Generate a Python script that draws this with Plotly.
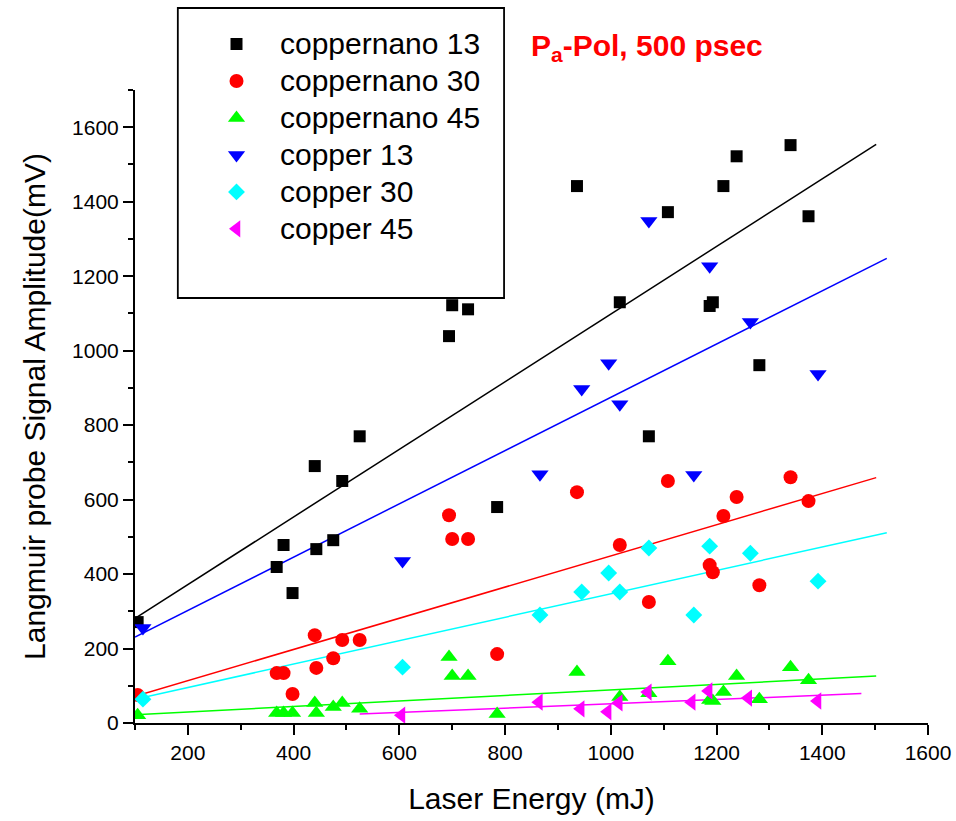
import plotly.graph_objects as go

# Laser energy (mJ) for the nano-structured copper target shots
energy_nano = [105, 368, 381, 398, 440, 443, 475, 492, 525, 694, 700, 730,
               785, 936, 1017, 1072, 1108, 1187, 1193, 1213, 1238, 1281, 1340, 1374]
# Probe signal amplitude (mV) at 13, 30 and 45 degrees
nano13 = [271, 419, 478, 349, 690, 467, 491, 650, 770, 1039, 1122, 1111,
          580, 1442, 1130, 770, 1372, 1120, 1130, 1442, 1522, 961, 1552, 1361]
nano30 = [75, 134, 134, 78, 236, 148, 174, 223, 223, 558, 494, 494,
          185, 620, 478, 325, 650, 424, 405, 556, 607, 370, 660, 596]
nano45 = [21, 27, 27, 27, 54, 27, 43, 54, 38, 177, 126, 126,
          24, 137, 70, 80, 166, 62, 59, 83, 126, 64, 150, 115]

# Plain copper target shots
energy_cu = [115, 606, 866, 945, 996, 1017, 1072, 1157, 1187, 1264, 1392]
cu13 = [255, 435, 668, 897, 966, 856, 1348, 666, 1227, 1077, 937]
cu30 = [64, 150, 290, 352, 403, 352, 470, 290, 475, 456, 381]
energy_cu45 = [604, 864, 943, 994, 1015, 1070, 1153, 1185, 1260, 1391]
cu45 = [21, 56, 38, 30, 54, 83, 56, 86, 67, 59]

# Linear fit end points (energy, amplitude) for each series
fit_nano13 = ([100, 1502], [281, 1554])
fit_nano30 = ([100, 1502], [72, 659])
fit_nano45 = ([100, 1502], [22, 126])
fit_cu13 = ([100, 1522], [231, 1248])
fit_cu30 = ([100, 1522], [64, 511])
fit_cu45 = ([525, 1474], [24, 79])

series = [
    ("coppernano 13", energy_nano, nano13, fit_nano13, "#000000", "square", 12),
    ("coppernano 30", energy_nano, nano30, fit_nano30, "#FF0000", "circle", 14),
    ("coppernano 45", energy_nano, nano45, fit_nano45, "#00FF00", "triangle-up", 15),
    ("copper 13", energy_cu, cu13, fit_cu13, "#0000FF", "triangle-down", 15),
    ("copper 30", energy_cu, cu30, fit_cu30, "#00FFFF", "diamond", 13),
    ("copper 45", energy_cu45, cu45, fit_cu45, "#FF00FF", "triangle-left", 15),
]

FONT = "Liberation Sans, Arial, sans-serif"
PLOT_TOP = 0.8816  # main axes occupy the lower part of the paper

fig = go.Figure()
for name, xs, ys, fit, color, symbol, size in series:
    fig.add_trace(go.Scatter(
        x=fit[0], y=fit[1], mode="lines", showlegend=False,
        line=dict(color=color, width=1.5), hoverinfo="skip"))
for name, xs, ys, fit, color, symbol, size in series:
    fig.add_trace(go.Scatter(
        x=xs, y=ys, mode="markers", name=name, showlegend=False,
        marker=dict(symbol=symbol, size=size, color=color, line=dict(width=0))))

# Hand-laid legend: key symbols on a hidden full-paper axis pair,
# labels as annotations, all inside a framed box.
LEG_KEY_X = 0.128
LEG_TEXT_X = 0.180
LEG_TOP = 0.9457
LEG_STEP = 0.0515
for i, (name, xs, ys, fit, color, symbol, size) in enumerate(series):
    row_y = LEG_TOP - i * LEG_STEP
    fig.add_trace(go.Scatter(
        x=[LEG_KEY_X], y=[row_y], xaxis="x2", yaxis="y2", mode="markers",
        showlegend=False, hoverinfo="skip", cliponaxis=False,
        marker=dict(symbol=symbol, size=size, color=color, line=dict(width=0))))
    fig.add_annotation(
        text=name, xref="paper", yref="paper", x=LEG_TEXT_X, y=row_y,
        xanchor="left", yanchor="middle", showarrow=False,
        font=dict(family=FONT, size=30, color="black"))

fig.add_shape(type="rect", xref="paper", yref="paper",
              x0=0.054, x1=0.4654, y0=0.5919, y1=0.9958,
              line=dict(color="black", width=1.8), fillcolor="rgba(0,0,0,0)")

axis_common = dict(
    showline=True, linecolor="black", linewidth=2,
    ticks="outside", ticklen=10, tickwidth=2, tickcolor="black",
    showgrid=False, zeroline=False, mirror=False,
    tickfont=dict(family=FONT, size=21, color="black"),
)

fig.update_layout(
    xaxis=dict(
        range=[100, 1600], tick0=200, dtick=200,
        minor=dict(dtick=100, tick0=100, ticks="outside", ticklen=5, tickwidth=2, tickcolor="black"),
        title=dict(text="Laser Energy (mJ)", font=dict(family=FONT, size=30, color="black"), standoff=25),
        **axis_common),
    yaxis=dict(
        domain=[0, PLOT_TOP], range=[0, 1700], tick0=0, dtick=200,
        minor=dict(dtick=100, tick0=0, ticks="outside", ticklen=5, tickwidth=2, tickcolor="black"),
        title=dict(text="Langmuir probe Signal Amplitude(mV)", font=dict(family=FONT, size=30, color="black"), standoff=18),
        **axis_common),
    xaxis2=dict(domain=[0, 1], anchor="y2", range=[0, 1], visible=False, fixedrange=True),
    yaxis2=dict(domain=[0, 1], anchor="x2", range=[0, 1], visible=False, fixedrange=True),
)

fig.add_annotation(
    text="P<sub>a</sub>-Pol, 500 psec", xref="paper", yref="paper",
    x=0.497, y=0.9415, xanchor="left", yanchor="middle", showarrow=False,
    font=dict(family=FONT, size=30, color="#FF0000", weight="bold"))

fig.update_layout(
    width=956, height=821,
    margin=dict(l=135, r=26, t=5, b=98),
    paper_bgcolor="white", plot_bgcolor="rgba(0,0,0,0)",
    showlegend=False,
)

fig.write_html("out.html")
